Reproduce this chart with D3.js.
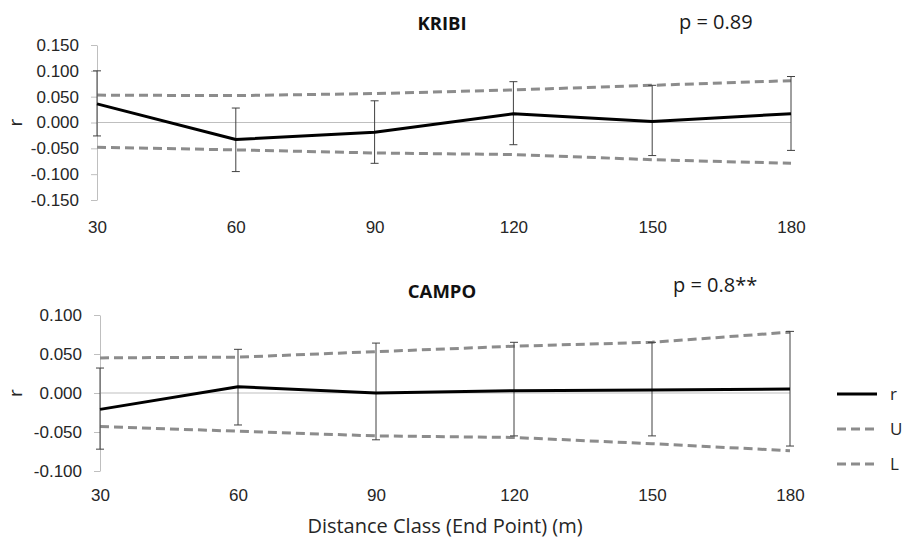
<!DOCTYPE html>
<html>
<head>
<meta charset="utf-8">
<script src="https://d3js.org/d3.v7.min.js"></script>
<style>
  body { margin: 0; background: #fff; }
  svg { display: block; font-family: "Open Sans", Lato, sans-serif; }
</style>
</head>
<body>
<svg id="chart"></svg>
<script>
// distance classes (end point, m)
var distances = [30, 60, 90, 120, 150, 180];

// KRIBI: correlogram r, upper / lower confidence limits, error bar ends
var kribiR = [0.036, -0.033, -0.019, 0.017, 0.002, 0.017];
var kribiU = [0.053, 0.052, 0.056, 0.063, 0.072, 0.081];
var kribiL = [-0.048, -0.053, -0.059, -0.062, -0.072, -0.079];
var kribiHi = [0.100, 0.028, 0.042, 0.079, 0.072, 0.089];
var kribiLo = [-0.026, -0.095, -0.079, -0.043, -0.064, -0.054];
var kribiTicks = [-0.15, -0.10, -0.05, 0, 0.05, 0.10, 0.15];

// CAMPO
var campoR = [-0.021, 0.008, 0.000, 0.003, 0.004, 0.005];
var campoU = [0.045, 0.046, 0.053, 0.060, 0.065, 0.078];
var campoL = [-0.043, -0.049, -0.055, -0.057, -0.065, -0.074];
var campoHi = [0.032, 0.056, 0.064, 0.065, 0.065, 0.079];
var campoLo = [-0.072, -0.041, -0.060, -0.055, -0.055, -0.068];
var campoTicks = [-0.10, -0.05, 0, 0.05, 0.10];

var legendNames = ["r", "U", "L"];

var width = 904, height = 538;
var svg = d3.select("#chart").attr("width", width).attr("height", height);
svg.append("rect").attr("width", width).attr("height", height).attr("fill", "#fff");

// excel style numbers, plain hyphen for negatives
function fmt(d) { return d.toFixed(3); }

function panel(opt) {
    var x = d3.scalePoint().domain(distances).range([opt.left, opt.right]);
    var y = d3.scaleLinear().domain(opt.domain).range([opt.bottom, opt.top]);
    var g = svg.append("g");

    // y axis
    var ya = g.append("g")
        .attr("transform", "translate(" + opt.left + ",0)")
        .call(d3.axisLeft(y).tickValues(opt.ticks).tickFormat(fmt).tickSize(6).tickSizeOuter(0).tickPadding(opt.ypad));
    ya.select(".domain").attr("stroke", "#bfbfbf");
    ya.selectAll(".tick line").attr("stroke", "#bfbfbf");
    ya.selectAll("text").attr("fill", "#262626").style("font-size", "17px");

    // category labels at the bottom
    var xa = g.append("g")
        .attr("transform", "translate(0," + opt.bottom + ")")
        .call(d3.axisBottom(x).tickSize(0).tickPadding(opt.xpad));
    xa.select(".domain").remove();
    xa.selectAll("text").attr("fill", "#262626").style("font-size", "17px");

    // zero line
    g.append("line")
        .attr("x1", opt.left).attr("x2", opt.right)
        .attr("y1", y(0)).attr("y2", y(0))
        .attr("stroke", "#bfbfbf").attr("stroke-width", 1);

    var line = d3.line().x(function (d, i) { return x(distances[i]); }).y(function (d) { return y(d); });

    [opt.u, opt.l].forEach(function (s) {
        g.append("path").datum(s).attr("d", line)
            .attr("fill", "none").attr("stroke", "#8c8c8c")
            .attr("stroke-width", 3).attr("stroke-dasharray", "9,5");
    });

    // error bars
    var eb = g.selectAll(".eb").data(distances).enter().append("g");
    eb.append("line")
        .attr("x1", function (d) { return x(d); }).attr("x2", function (d) { return x(d); })
        .attr("y1", function (d, i) { return y(opt.hi[i]); })
        .attr("y2", function (d, i) { return y(opt.lo[i]); });
    eb.append("line")
        .attr("x1", function (d) { return x(d) - 4; }).attr("x2", function (d) { return x(d) + 4; })
        .attr("y1", function (d, i) { return y(opt.hi[i]); })
        .attr("y2", function (d, i) { return y(opt.hi[i]); });
    eb.append("line")
        .attr("x1", function (d) { return x(d) - 4; }).attr("x2", function (d) { return x(d) + 4; })
        .attr("y1", function (d, i) { return y(opt.lo[i]); })
        .attr("y2", function (d, i) { return y(opt.lo[i]); });
    eb.selectAll("line").attr("stroke", "#404040").attr("stroke-width", 1);

    g.append("path").datum(opt.r).attr("d", line)
        .attr("fill", "none").attr("stroke", "#000")
        .attr("stroke-width", 3).attr("stroke-linejoin", "round");

    // y title
    g.append("text")
        .attr("transform", "translate(22," + y(0) + ")rotate(-90)")
        .attr("text-anchor", "middle")
        .style("font-size", "19px").attr("fill", "#262626")
        .text("r");

    g.append("text")
        .attr("x", 442).attr("y", opt.titleY)
        .attr("text-anchor", "middle")
        .style("font-size", "18.5px").style("font-weight", "bold").attr("fill", "#111")
        .text(opt.title);

    g.append("text")
        .attr("x", opt.pX).attr("y", opt.pY)
        .style("font-size", "20px").attr("fill", "#1a1a1a")
        .text(opt.p);
}

panel({
    left: 97, right: 791, top: 45, bottom: 200, domain: [-0.15, 0.15], ticks: kribiTicks,
    xpad: 21, ypad: 12, r: kribiR, u: kribiU, l: kribiL, hi: kribiHi, lo: kribiLo,
    title: "KRIBI", titleY: 30, p: "p = 0.89", pX: 679, pY: 29
});

panel({
    left: 100, right: 790, top: 315, bottom: 471, domain: [-0.10, 0.10], ticks: campoTicks,
    xpad: 18, ypad: 12, r: campoR, u: campoU, l: campoL, hi: campoHi, lo: campoLo,
    title: "CAMPO", titleY: 298, p: "p = 0.8**", pX: 673, pY: 292
});

svg.append("text")
    .attr("x", 445).attr("y", 533)
    .attr("text-anchor", "middle")
    .style("font-size", "20px").attr("fill", "#262626")
    .text("Distance Class (End Point) (m)");

// legend
var leg = svg.append("g").selectAll("g").data(legendNames).enter().append("g")
    .attr("transform", function (d, i) { return "translate(837," + (394 + i * 35) + ")"; });
leg.append("line")
    .attr("x1", 0).attr("x2", 40).attr("y1", 0).attr("y2", 0)
    .attr("stroke", function (d) { return d === "r" ? "#000" : "#8c8c8c"; })
    .attr("stroke-width", 3)
    .attr("stroke-dasharray", function (d) { return d === "r" ? null : "9,5"; });
leg.append("text")
    .attr("x", 53).attr("y", 0).attr("dy", "0.35em")
    .style("font-size", "17px").attr("fill", "#262626")
    .text(function (d) { return d; });
</script>
</body>
</html>
